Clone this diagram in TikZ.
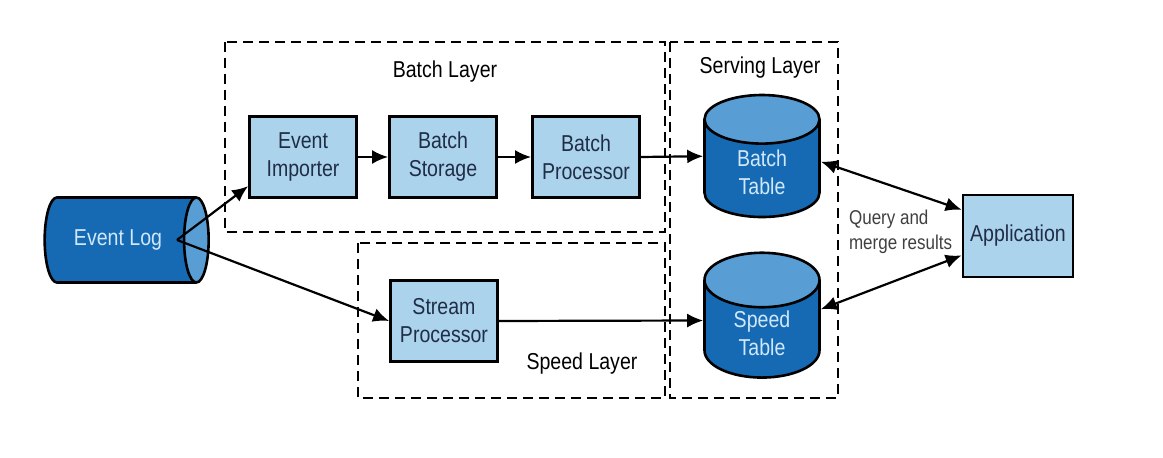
\documentclass[tikz,border=0pt]{standalone}
\usepackage{fontspec}
\setmainfont{Liberation Sans}[FakeStretch=0.85]
\usetikzlibrary{shapes.geometric,arrows.meta}

\definecolor{boxblue}{RGB}{172,211,236}
\definecolor{dbblue}{RGB}{22,106,180}
\definecolor{dbtop}{RGB}{88,157,212}
\definecolor{dbtext}{RGB}{208,232,250}
\definecolor{boxtext}{RGB}{32,45,70}

\begin{document}
\begin{tikzpicture}[x=0.5pt, y=-0.5pt,
    font=\fontsize{11.5}{14}\selectfont,
    proc/.style={draw, line width=1.4pt, fill=boxblue, text=boxtext,
      minimum width=53.5pt, minimum height=40.5pt, align=center, inner sep=1pt},
    db/.style={cylinder, draw, line width=1.3pt, cylinder uses custom fill,
      cylinder body fill=dbblue, cylinder end fill=dbtop, text=dbtext,
      align=center, inner sep=1pt},
    table/.style={db, shape border rotate=90, minimum width=57.5pt,
      minimum height=61pt, aspect=0.9},
    layer/.style={draw, line width=1.2pt, dash pattern=on 5pt off 3pt},
    arr/.style={line width=1.1pt, -{Latex[length=8pt,width=7pt]}},
    darr/.style={line width=1.1pt, {Latex[length=8pt,width=7pt]}-{Latex[length=8pt,width=7pt]}}]
  \useasboundingbox (0,0) rectangle (1163,458);

  % dashed layer frames
  \draw[layer] (225,42) rectangle (665,232);
  \draw[layer] (670,42) rectangle (838,398);
  \draw[layer] (358,243) rectangle (665,398);
  \node (batchlbl) at (445,72) {Batch Layer};
  \node (servelbl) at (760,68) {Serving Layer};
  \node (speedlbl) at (582,364) {Speed Layer};

  % source log (horizontal cylinder)
  \node[db, minimum width=42.5pt, minimum height=82pt, aspect=1] (elog) at (118,240) {Event Log};
  \coordinate (logtip) at (177,240);

  % batch path
  \node[proc] (imp) at (303,157) {Event\\Importer};
  \node[proc] (bstore) at (443,157) {Batch\\Storage};
  \node[proc] (bproc) at (586,157) {Batch\\Processor};

  % speed path
  \node[proc] (sproc) at (444,321) {Stream\\Processor};

  % serving tables
  \node[table] (btable) at (762,172) {Batch\\Table};
  \node[table] (stable) at (762,333) {Speed\\Table};

  \node[proc, minimum width=55pt, minimum height=41pt] (app) at (1018,236) {Application};
  \node[anchor=west, align=left, text=black!75, font=\fontsize{10}{12.5}\selectfont]
    (qlbl) at (842,232) {Query and\\merge results};

  % connectors
  \draw[arr] (logtip) -- (imp.208);
  \draw[arr] (logtip) -- (sproc.west);
  \draw[arr] (imp) -- (bstore);
  \draw[arr] (bstore) -- (bproc);
  \draw[arr] (bproc.east) -- (btable.165);
  \draw[arr] (sproc.east) -- (stable.168);
  \draw[darr] (btable.10) -- (app.155);
  \draw[darr] (stable.22) -- (app.199);
\end{tikzpicture}
\end{document}
